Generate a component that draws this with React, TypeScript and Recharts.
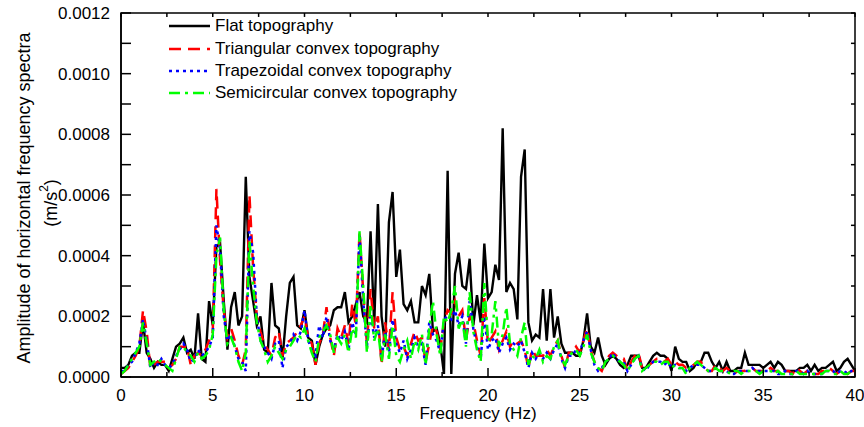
import React from "react";
import { LineChart, Line, XAxis, YAxis, Legend, Label, ReferenceArea, ReferenceLine } from "recharts";

const FONT = '"Liberation Sans", Arial, sans-serif';

// spectra sampled every 0.2 Hz from 0 to 40 Hz, amplitudes in units of 1e-5 m/s^2
const FREQ_STEP = 0.2;

const flat = [
  3, 3, 4, 7, 8, 8, 18, 8, 6, 3,
  5, 4, 4, 2, 6, 10, 11, 13, 8, 9,
  6, 21, 6, 5, 25, 17, 43, 44, 25, 9,
  23, 28, 17, 20, 66, 33, 25, 17, 20, 9,
  8, 31, 17, 16, 6, 20, 31, 33, 17, 16,
  22, 13, 12, 4, 10, 14, 16, 17, 22, 23,
  23, 28, 18, 20, 24, 28, 20, 18, 48, 17,
  57, 20, 10, 51, 61, 33, 42, 24, 22, 25,
  18, 18, 30, 27, 34, 15, 16, 11, 1, 68,
  1, 34, 41, 30, 29, 39, 17, 27, 18, 44,
  26, 28, 37, 32, 82, 28, 31, 29, 19, 66,
  75, 18, 12, 14, 13, 29, 12, 29, 13, 20,
  11, 8, 8, 8, 7, 7, 12, 21, 10, 8,
  13, 7, 4, 6, 7, 6, 4, 3, 4, 7,
  7, 7, 3, 3, 5, 7, 8, 7, 7, 6,
  2, 10, 6, 5, 5, 2, 3, 5, 5, 8,
  8, 5, 3, 5, 2, 5, 2, 2, 3, 3,
  8, 4, 4, 4, 4, 3, 4, 5, 3, 5,
  4, 2, 2, 2, 2, 3, 3, 4, 2, 4,
  2, 3, 3, 4, 5, 2, 3, 5, 6, 4,
  2,
];

const triangular = [
  1, 2, 3, 5, 7, 10, 22, 15, 3, 4,
  5, 5, 5, 3, 4, 6, 10, 10, 10, 4,
  7, 8, 7, 9, 12, 15, 62, 38, 22, 13,
  16, 12, 7, 4, 9, 60, 36, 20, 15, 11,
  9, 7, 13, 15, 7, 11, 12, 13, 15, 17,
  20, 13, 11, 4, 11, 14, 23, 13, 7, 16,
  13, 17, 11, 24, 17, 48, 28, 11, 29, 16,
  20, 4, 18, 9, 28, 13, 9, 10, 7, 11,
  15, 12, 13, 5, 11, 17, 15, 9, 18, 22,
  21, 25, 20, 22, 12, 20, 18, 12, 7, 26,
  11, 13, 15, 9, 12, 15, 10, 12, 11, 12,
  9, 3, 9, 7, 7, 7, 9, 7, 10, 12,
  7, 3, 8, 8, 10, 8, 12, 16, 9, 5,
  3, 2, 5, 7, 8, 7, 6, 6, 2, 5,
  7, 8, 3, 3, 4, 5, 6, 6, 5, 6,
  4, 5, 4, 4, 3, 3, 4, 5, 5, 3,
  2, 2, 4, 3, 2, 3, 2, 1, 2, 2,
  2, 3, 3, 2, 2, 2, 2, 3, 2, 2,
  1, 2, 2, 1, 3, 2, 1, 2, 1, 1,
  1, 2, 2, 3, 2, 1, 2, 2, 1, 2,
  2,
];

const trapezoidal = [
  2, 2, 4, 5, 8, 11, 19, 12, 3, 5,
  4, 6, 4, 3, 4, 7, 9, 11, 9, 5,
  6, 9, 7, 8, 10, 13, 50, 42, 20, 12,
  14, 10, 6, 5, 2, 48, 41, 20, 12, 10,
  8, 6, 11, 12, 3, 10, 11, 14, 12, 15,
  22, 12, 9, 7, 17, 13, 20, 12, 9, 14,
  12, 15, 9, 18, 14, 47, 25, 10, 21, 13,
  17, 6, 15, 8, 19, 11, 8, 12, 6, 9,
  13, 10, 11, 4, 18, 14, 12, 8, 19, 20,
  19, 22, 17, 20, 11, 25, 16, 10, 6, 20,
  9, 12, 13, 8, 11, 13, 9, 11, 10, 12,
  8, 3, 8, 6, 8, 6, 8, 6, 9, 11,
  6, 3, 7, 7, 9, 8, 12, 15, 9, 4,
  2, 3, 5, 6, 8, 6, 5, 5, 2, 4,
  6, 7, 3, 2, 4, 5, 5, 5, 4, 5,
  3, 4, 3, 3, 2, 3, 4, 4, 4, 3,
  2, 2, 3, 2, 2, 2, 1, 1, 2, 2,
  2, 2, 3, 2, 2, 2, 2, 2, 2, 1,
  1, 2, 1, 1, 2, 2, 1, 2, 1, 1,
  1, 1, 2, 2, 2, 1, 2, 2, 1, 2,
  2,
];

const semicircular = [
  1, 2, 4, 6, 8, 10, 18, 11, 4, 5,
  6, 5, 4, 3, 2, 6, 10, 10, 8, 7,
  5, 8, 6, 7, 9, 14, 40, 46, 22, 11,
  13, 10, 5, 2, 8, 45, 30, 18, 12, 9,
  5, 7, 10, 8, 6, 9, 10, 12, 14, 13,
  16, 12, 8, 5, 13, 15, 17, 14, 8, 13,
  11, 14, 8, 16, 13, 48, 30, 8, 24, 12,
  16, 5, 14, 6, 17, 7, 5, 9, 12, 6,
  12, 9, 14, 4, 16, 25, 14, 7, 20, 18,
  22, 30, 16, 19, 10, 28, 15, 9, 5, 31,
  12, 14, 25, 10, 14, 23, 11, 9, 7, 13,
  18, 4, 7, 6, 9, 5, 7, 6, 10, 12,
  6, 4, 7, 8, 9, 7, 10, 14, 8, 5,
  3, 2, 5, 6, 7, 6, 5, 4, 2, 4,
  6, 7, 2, 3, 4, 5, 5, 4, 5, 5,
  3, 4, 3, 3, 1, 3, 4, 5, 4, 3,
  2, 2, 3, 2, 2, 2, 1, 2, 2, 1,
  2, 2, 2, 2, 1, 2, 2, 2, 1, 2,
  1, 1, 1, 1, 2, 1, 1, 1, 1, 1,
  1, 1, 2, 2, 1, 1, 2, 1, 1, 2,
  2,
];

const xTicks = [0, 2.5, 5, 7.5, 10, 12.5, 15, 17.5, 20, 22.5, 25, 27.5, 30, 32.5, 35, 37.5, 40];
const yTicks = [0, 0.0001, 0.0002, 0.0003, 0.0004, 0.0005, 0.0006, 0.0007, 0.0008, 0.0009, 0.001, 0.0011, 0.0012];

const X_MAX = 40;
const Y_MAX = 0.0012;

const SERIES = [
  { key: "flat", name: "Flat topography", color: "#000000", dash: undefined, width: 2.4 },
  { key: "triangular", name: "Triangular convex topography", color: "#ff0000", dash: "12 7", width: 2.5 },
  { key: "trapezoidal", name: "Trapezoidal convex topography", color: "#0000ff", dash: "3 4", width: 2.5 },
  { key: "semicircular", name: "Semicircular convex topography", color: "#00ff00", dash: "11 5 3 5", width: 2.5 },
];

const data = flat.map((v, i) => ({
  freq: Number((i * FREQ_STEP).toFixed(1)),
  flat: v * 1e-5,
  triangular: triangular[i] * 1e-5,
  trapezoidal: trapezoidal[i] * 1e-5,
  semicircular: semicircular[i] * 1e-5,
}));

// ticks point into the plot, so the tick lines are drawn here with the labels
const BottomTick = (props: any) => {
  const { x, y, payload } = props;
  const major = payload.value % 5 === 0;
  return (
    <g>
      <line x1={x} y1={y} x2={x} y2={y - (major ? 9 : 5)} stroke="#000" strokeWidth={1.5} />
      {major && (
        <text x={x} y={y + 24} textAnchor="middle" fontSize={17} fill="#000">
          {payload.value}
        </text>
      )}
    </g>
  );
};

const LeftTick = (props: any) => {
  const { x, y, payload } = props;
  const major = Math.round(payload.value * 1e4) % 2 === 0;
  return (
    <g>
      <line x1={x} y1={y} x2={x + 10} y2={y} stroke="#000" strokeWidth={1.5} />
      {major && (
        <text x={x - 11} y={y + 6} textAnchor="end" fontSize={17} fill="#000">
          {payload.value.toFixed(4)}
        </text>
      )}
    </g>
  );
};

const renderYTitle = () => (
  <g fontSize={18} fill="#000">
    <text x={24} y={198} transform="rotate(-90 24 198)" textAnchor="middle" dominantBaseline="central">
      Amplitude of horizontal frequency spectra
    </text>
    <text x={51} y={203} transform="rotate(-90 51 203)" textAnchor="middle" dominantBaseline="central">
      (m/s<tspan dy={-7} fontSize={12}>2</tspan>
      <tspan dy={7}>)</tspan>
    </text>
  </g>
);

const renderXTitle = () => (
  <text x={478} y={419} textAnchor="middle" fontSize={17} fill="#000">
    Frequency (Hz)
  </text>
);

const LegendBox = () => (
  <div style={{ fontFamily: FONT, fontSize: 17, color: "#000" }}>
    {SERIES.map((s) => (
      <div key={s.key} style={{ display: "flex", alignItems: "center", height: 22.4, whiteSpace: "nowrap" }}>
        <svg width={41} height={10} style={{ marginRight: 5 }}>
          <line x1={0} y1={5} x2={41} y2={5} stroke={s.color} strokeWidth={s.width} strokeDasharray={s.dash} />
        </svg>
        <span>{s.name}</span>
      </div>
    ))}
  </div>
);

const axisLine = { stroke: "#000", strokeWidth: 1.5 };

export default function App() {
  return (
    <div style={{ position: "absolute", left: 0, top: 0, width: 864, height: 427, background: "#fff" }}>
      <LineChart
        width={864}
        height={427}
        data={data}
        margin={{ top: 13, right: 9, bottom: 0, left: 0 }}
        style={{ fontFamily: FONT }}
      >
        <XAxis
          dataKey="freq"
          type="number"
          domain={[0, X_MAX]}
          ticks={xTicks}
          interval={0}
          height={50}
          tickSize={0}
          tickMargin={0}
          tickLine={false}
          tick={<BottomTick />}
          axisLine={axisLine}
        >
          <Label content={renderXTitle} />
        </XAxis>
        <YAxis
          type="number"
          domain={[0, Y_MAX]}
          ticks={yTicks}
          interval={0}
          width={121}
          tickSize={0}
          tickMargin={0}
          tickLine={false}
          tick={<LeftTick />}
          axisLine={axisLine}
        >
          <Label content={renderYTitle} />
        </YAxis>
        {/* closed frame with short inward ticks on the top and right edges */}
        <ReferenceArea x1={0} x2={X_MAX} y1={0} y2={Y_MAX} fill="none" stroke="#000" strokeWidth={1.5} />
        {xTicks.map((t) => (
          <ReferenceLine
            key={`top-${t}`}
            segment={[{ x: t, y: Y_MAX }, { x: t, y: Y_MAX - 0.000013 }]}
            stroke="#000"
            strokeWidth={1.5}
          />
        ))}
        {yTicks.map((t) => (
          <ReferenceLine
            key={`right-${t}`}
            segment={[{ x: X_MAX, y: t }, { x: X_MAX - 0.22, y: t }]}
            stroke="#000"
            strokeWidth={1.5}
          />
        ))}
        <Legend
          layout="vertical"
          align="center"
          verticalAlign="middle"
          content={<LegendBox />}
          wrapperStyle={{ left: 169, top: 15, width: "auto" }}
        />
        {SERIES.map((s) => (
          <Line
            key={s.key}
            dataKey={s.key}
            name={s.name}
            type="linear"
            stroke={s.color}
            strokeWidth={s.width}
            strokeDasharray={s.dash}
            dot={false}
            activeDot={false}
            isAnimationActive={false}
          />
        ))}
      </LineChart>
    </div>
  );
}
